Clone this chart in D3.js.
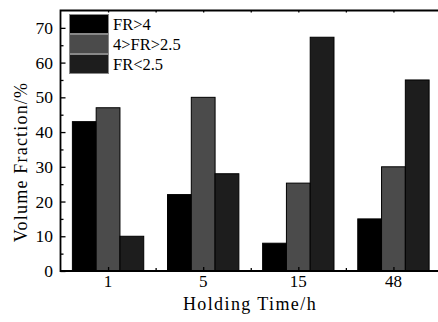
<!DOCTYPE html>
<html>
<head>
<meta charset="utf-8">
<script src="https://cdn.jsdelivr.net/npm/d3@7"></script>
<style>
body{margin:0;background:#fff;}
svg{display:block;}
text{font-family:"Liberation Serif","Times New Roman",serif;fill:#000;}
</style>
</head>
<body>
<svg id="chart" width="438" height="322"></svg>
<script>
// data
var categories = ["1", "5", "15", "48"];
var seriesNames = ["FR>4", "4>FR>2.5", "FR<2.5"];
var frGt4 = [43, 22, 8, 15];
var frMid = [47, 50, 25.3, 30];
var frLt25 = [10, 28, 67.3, 55];
var yTicks = [0, 10, 20, 30, 40, 50, 60, 70];

var seriesVals = [frGt4, frMid, frLt25];
var seriesColors = ["#000000", "#4b4b4b", "#1d1d1d"];

var svg = d3.select("#chart");
var X0 = 60.5, X1 = 441, Y0 = 271, Y1 = 10.5;

// positions 1..4, axis frame spans 0.5..4.5
var x = d3.scaleLinear().domain([0.5, 4.5]).range([X0, X1]);
var y = d3.scaleLinear().domain([0, 75]).range([Y0, Y1]);
var barW = 0.25;

// bars
seriesVals.forEach(function(vals, si){
	svg.append("g").attr("class", "series-" + si)
		.selectAll("rect").data(vals).enter().append("rect")
		.attr("x", function(d, i){ return x(i + 1 + (si - 1) * barW - barW/2); })
		.attr("width", x(barW) - x(0))
		.attr("y", function(d){ return y(d); })
		.attr("height", function(d){ return y(0) - y(d); })
		.attr("fill", seriesColors[si])
		.attr("stroke", "#000")
		.attr("stroke-width", 1);
});

// axes: ticks pointing inward
var catPos = categories.map(function(c, i){ return i + 1; });
var halfPos = [1.5, 2.5, 3.5];

var yAxis = d3.axisRight(y).tickValues(yTicks).tickSize(5).tickFormat("");
var yMinor = d3.axisRight(y).tickValues(d3.range(5, 75, 10)).tickSize(3).tickFormat("");
svg.append("g").attr("transform", "translate(" + X0 + ",0)").call(yAxis);
svg.append("g").attr("transform", "translate(" + X0 + ",0)").call(yMinor);

var xAxis = d3.axisTop(x).tickValues(catPos).tickSize(4).tickFormat("");
var xMinor = d3.axisTop(x).tickValues(halfPos).tickSize(3).tickFormat("");
svg.append("g").attr("transform", "translate(0," + Y0 + ")").call(xAxis);
svg.append("g").attr("transform", "translate(0," + Y0 + ")").call(xMinor);

var topAxis = d3.axisBottom(x).tickValues(catPos.concat(halfPos)).tickSize(2).tickFormat("");
svg.append("g").attr("transform", "translate(0," + Y1 + ")").call(topAxis);

svg.selectAll(".domain").remove();
svg.selectAll(".tick line").attr("stroke", "#000").attr("stroke-width", 1.3);

// frame
svg.append("path")
	.attr("d", "M" + X1 + "," + Y1 + "H" + X0 + "V" + Y0 + "H" + X1)
	.attr("fill", "none").attr("stroke", "#000").attr("stroke-width", 1.8);

// tick labels
svg.append("g").selectAll("text").data(yTicks).enter().append("text")
	.attr("x", 53).attr("y", function(d){ return y(d) + 6; })
	.attr("text-anchor", "end").attr("font-size", 17.5)
	.text(function(d){ return d; });

svg.append("g").selectAll("text").data(categories).enter().append("text")
	.attr("x", function(d, i){ return x(i + 1); }).attr("y", 287)
	.attr("text-anchor", "middle").attr("font-size", 17)
	.text(function(d){ return d; });

// axis titles
svg.append("text")
	.attr("x", 250).attr("y", 310)
	.attr("text-anchor", "middle").attr("font-size", 18)
	.attr("letter-spacing", 1.4)
	.text("Holding Time/h");

svg.append("text")
	.attr("transform", "translate(27,162) rotate(-90)")
	.attr("text-anchor", "middle").attr("font-size", 18)
	.attr("letter-spacing", 1.2)
	.text("Volume Fraction/%");

// legend
var lg = svg.append("g").attr("class", "legend");
seriesNames.forEach(function(name, i){
	lg.append("rect")
		.attr("x", 69.5).attr("y", 14.5 + i * 20)
		.attr("width", 39).attr("height", 19)
		.attr("fill", seriesColors[i])
		.attr("stroke", "#888").attr("stroke-width", 1);
	lg.append("text")
		.attr("x", 113).attr("y", 30 + i * 20)
		.attr("font-size", 16.5)
		.text(name);
});
</script>
</body>
</html>
